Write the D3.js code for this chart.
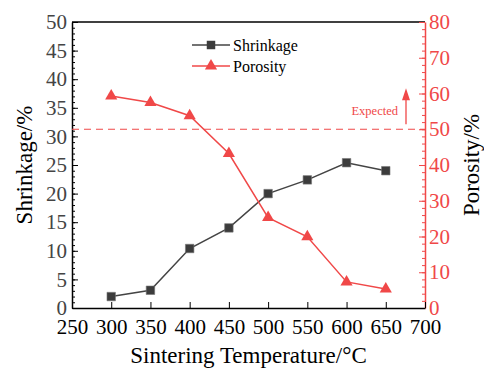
<!DOCTYPE html>
<html>
<head>
<meta charset="utf-8">
<script src="https://cdn.jsdelivr.net/npm/d3@7"></script>
<style>
  body { margin: 0; background: #fff; }
  svg, svg text { font-family: "Liberation Serif", "DejaVu Serif", serif !important; }
</style>
</head>
<body>
<svg width="484" height="371"></svg>
<script>
let temps = [300, 350, 400, 450, 500, 550, 600, 650];
let shrinkage = [2.0, 3.1, 10.4, 14.0, 20.0, 22.4, 25.4, 24.0];
let porosity = [59.3, 57.5, 53.8, 43.2, 25.3, 19.9, 7.3, 5.3];
let expected = 50;
let xTicks = [250, 300, 350, 400, 450, 500, 550, 600, 650, 700];

let black = '#444', red = '#f04848';
let pLeft = 72, pRight = 425, pTop = 22, pBottom = 308;

let svg = d3.select('svg');

let x = d3.scaleLinear().domain([250, 700]).range([pLeft, pRight]);
let yL = d3.scaleLinear().domain([0, 50]).range([pBottom, pTop]);
let yR = d3.scaleLinear().domain([0, 80]).range([pBottom, pTop]);

// top frame line
svg.append('line')
	.attr('x1', pLeft).attr('x2', pRight)
	.attr('y1', pTop).attr('y2', pTop)
	.attr('stroke', '#000').attr('stroke-width', 1.5);

// left axis minor ticks
svg.append('g')
	.attr('transform', `translate(${pLeft},0)`)
	.call(d3.axisLeft(yL).tickValues(d3.range(0, 50.01, 1)).tickSize(-3).tickSizeOuter(0).tickFormat(''))
	.call(g => g.select('.domain').remove())
	.selectAll('line').attr('stroke', '#000');

let gL = svg.append('g')
	.attr('transform', `translate(${pLeft},0)`)
	.call(d3.axisLeft(yL).tickValues(d3.range(0, 51, 5)).tickSize(-6).tickSizeOuter(0).tickPadding(5));
gL.select('.domain').attr('stroke', '#000').attr('stroke-width', 1.5);
gL.selectAll('text').attr('font-size', 21).attr('fill', '#444');

// right axis
svg.append('g')
	.attr('transform', `translate(${pRight},0)`)
	.call(d3.axisRight(yR).tickValues(d3.range(0, 80.01, 2)).tickSize(-3).tickSizeOuter(0).tickFormat(''))
	.call(g => g.select('.domain').remove())
	.selectAll('line').attr('stroke', red);

let gR = svg.append('g')
	.attr('transform', `translate(${pRight},0)`)
	.call(d3.axisRight(yR).tickValues(d3.range(0, 81, 10)).tickSize(-6).tickSizeOuter(0).tickPadding(4));
gR.select('.domain').attr('stroke', red).attr('stroke-width', 1.5);
gR.selectAll('line').attr('stroke', red);
gR.selectAll('text').attr('font-size', 21).attr('fill', red);

// bottom axis
let gB = svg.append('g')
	.attr('transform', `translate(0,${pBottom})`)
	.call(d3.axisBottom(x).tickValues(xTicks).tickSize(-6).tickSizeOuter(0).tickPadding(11));
gB.select('.domain').attr('stroke', '#000').attr('stroke-width', 1.5);
gB.selectAll('text').attr('font-size', 21).attr('fill', '#000');

// axis titles
svg.append('text')
	.attr('x', (pLeft + pRight) / 2).attr('y', 363)
	.attr('text-anchor', 'middle').attr('font-size', 23)
	.text('Sintering Temperature/°C');
svg.append('text')
	.attr('transform', `translate(32,${(pTop + pBottom) / 2}) rotate(-90)`)
	.attr('text-anchor', 'middle').attr('font-size', 23)
	.text('Shrinkage/%');
svg.append('text')
	.attr('transform', `translate(479,${(pTop + pBottom) / 2}) rotate(-90)`)
	.attr('text-anchor', 'middle').attr('font-size', 23)
	.text('Porosity/%');

// expected line
svg.append('line')
	.attr('x1', pLeft).attr('x2', pRight)
	.attr('y1', yR(expected)).attr('y2', yR(expected))
	.attr('stroke', red).attr('stroke-width', 1.2).attr('stroke-dasharray', '7,5');
svg.append('text')
	.attr('x', 398).attr('y', yR(expected) - 14)
	.attr('text-anchor', 'end').attr('font-size', 12.5).attr('fill', red)
	.text('Expected');
svg.append('line')
	.attr('x1', 406).attr('x2', 406)
	.attr('y1', yR(expected) - 5).attr('y2', yR(expected) - 32)
	.attr('stroke', red).attr('stroke-width', 1.3);
svg.append('path')
	.attr('d', `M406,${yR(expected) - 41}L402,${yR(expected) - 29}L410,${yR(expected) - 29}Z`)
	.attr('fill', red);

// series
let sq = d3.symbol().type(d3.symbolSquare).size(72);
let tri = d3.symbol().type(d3.symbolTriangle).size(64);

svg.append('path')
	.datum(temps)
	.attr('fill', 'none').attr('stroke', black).attr('stroke-width', 1.5)
	.attr('d', d3.line().x(d => x(d)).y((d, i) => yL(shrinkage[i])));
svg.selectAll('.sq')
	.data(temps)
	.join('path')
	.attr('class', 'sq')
	.attr('transform', (d, i) => `translate(${x(d)},${yL(shrinkage[i])})`)
	.attr('d', sq).attr('fill', '#3c3c3c').attr('stroke', '#777').attr('stroke-width', 0.6);

svg.append('path')
	.datum(temps)
	.attr('fill', 'none').attr('stroke', red).attr('stroke-width', 1.5)
	.attr('d', d3.line().x(d => x(d)).y((d, i) => yR(porosity[i])));
svg.selectAll('.tri')
	.data(temps)
	.join('path')
	.attr('class', 'tri')
	.attr('transform', (d, i) => `translate(${x(d)},${yR(porosity[i])})`)
	.attr('d', tri).attr('fill', red);

// legend
let legend = [
	{ name: 'Shrinkage', color: black, sym: sq, fill: '#3c3c3c' },
	{ name: 'Porosity', color: red, sym: tri, fill: red }
];
let lg = svg.selectAll('.lg')
	.data(legend)
	.join('g')
	.attr('class', 'lg')
	.attr('transform', (d, i) => `translate(192,${45 + i * 21})`);
lg.append('line')
	.attr('x1', 0).attr('x2', 38)
	.attr('stroke', d => d.color).attr('stroke-width', 1.5);
lg.append('path')
	.attr('transform', 'translate(19,0)')
	.attr('d', d => d.sym()).attr('fill', d => d.fill);
lg.append('text')
	.attr('x', 41).attr('dy', '0.35em')
	.attr('font-size', 16)
	.text(d => d.name);
</script>
</body>
</html>
